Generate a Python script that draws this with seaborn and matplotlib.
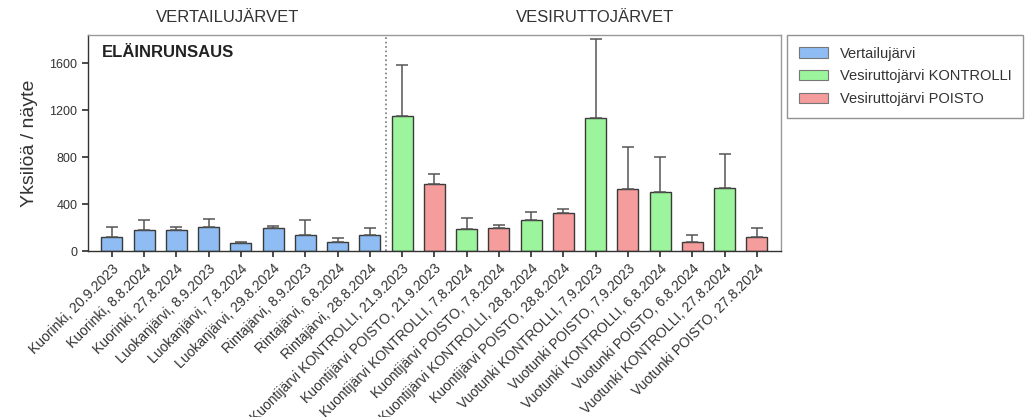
import matplotlib
matplotlib.use("Agg")
import matplotlib.pyplot as plt
from matplotlib.patches import Patch
import seaborn as sns
import pandas as pd
import numpy as np

categories = [
    "Kuorinki, 20.9.2023", "Kuorinki, 8.8.2024", "Kuorinki, 27.8.2024",
    "Luokanjärvi, 8.9.2023", "Luokanjärvi, 7.8.2024", "Luokanjärvi, 29.8.2024",
    "Rintajärvi, 8.9.2023", "Rintajärvi, 6.8.2024", "Rintajärvi, 28.8.2024",
    "Kuontijärvi KONTROLLI, 21.9.2023", "Kuontijärvi POISTO, 21.9.2023",
    "Kuontijärvi KONTROLLI, 7.8.2024", "Kuontijärvi POISTO, 7.8.2024",
    "Kuontijärvi KONTROLLI, 28.8.2024", "Kuontijärvi POISTO, 28.8.2024",
    "Vuotunki KONTROLLI, 7.9.2023", "Vuotunki POISTO, 7.9.2023",
    "Vuotunki KONTROLLI, 6.8.2024", "Vuotunki POISTO, 6.8.2024",
    "Vuotunki KONTROLLI, 27.8.2024", "Vuotunki POISTO, 27.8.2024",
]
groups = (["Vertailujärvi"] * 9
          + ["Vesiruttojärvi KONTROLLI", "Vesiruttojärvi POISTO"] * 6)
means = [122, 179, 179, 207, 71, 199, 136, 74, 134,
         1150, 568, 185, 199, 264, 326, 1136, 525, 505, 74, 539, 119]
sd = [85, 85, 28, 62, 6, 14, 128, 34, 59,
      435, 88, 94, 23, 66, 35, 668, 364, 293, 62, 287, 80]

group_order = ["Vertailujärvi", "Vesiruttojärvi KONTROLLI", "Vesiruttojärvi POISTO"]
palette = {"Vertailujärvi": "#8fbdf3",
           "Vesiruttojärvi KONTROLLI": "#9cf59c",
           "Vesiruttojärvi POISTO": "#f59c9c"}

df = pd.DataFrame({"kohde": categories, "ryhma": groups, "arvo": means, "sd": sd})

sns.set_theme(style="ticks")
plt.rcParams["font.family"] = ["Liberation Sans", "DejaVu Sans"]

fig = plt.figure(figsize=(10.3, 4.17), dpi=100)
ax = fig.add_axes([0.0854, 0.398, 0.6728, 0.518])

sns.barplot(data=df, x="kohde", y="arvo", hue="ryhma", order=categories,
            hue_order=group_order, palette=palette, dodge=False, width=0.65,
            saturation=1, edgecolor="#3a3a3a", linewidth=1.0, legend=False, ax=ax)

# upward-only standard deviation whiskers
xpos = np.arange(len(categories))
ax.errorbar(xpos, df["arvo"], yerr=[np.zeros(len(sd)), df["sd"]], fmt="none",
            ecolor="#555555", elinewidth=1.1, capsize=4, capthick=1.1, zorder=1)

ax.set_xlim(-0.74, 20.75)
ax.set_ylim(0, 1840)
ax.set_yticks([0, 400, 800, 1200, 1600])
ax.set_xlabel("")
ax.set_ylabel("Yksilöä / näyte", fontsize=14, color="#333333", labelpad=8)
ax.tick_params(axis="y", labelsize=9, colors="#333333", length=4)
ax.tick_params(axis="x", labelsize=10, colors="#333333", length=4)
plt.setp(ax.get_xticklabels(), rotation=45, ha="right", rotation_mode="anchor")

for side in ["left", "bottom"]:
    ax.spines[side].set_color("#333333")
    ax.spines[side].set_linewidth(1.0)
for side in ["top", "right"]:
    ax.spines[side].set_visible(True)
    ax.spines[side].set_color("#999999")
    ax.spines[side].set_linewidth(1.0)

ax.axvline(8.5, color="#777777", linestyle=":", linewidth=1.2)

ax.text(0.02, 0.92, "ELÄINRUNSAUS", transform=ax.transAxes, fontsize=12,
        fontweight="bold", color="#222222", va="center", ha="left")

fig.text(228 / 1030, 1 - 17 / 417, "VERTAILUJÄRVET", fontsize=12,
         color="#333333", ha="center", va="center")
fig.text(595 / 1030, 1 - 17 / 417, "VESIRUTTOJÄRVET", fontsize=12,
         color="#333333", ha="center", va="center")

handles = [Patch(facecolor=palette[g], edgecolor="#777777", linewidth=0.8, label=g)
           for g in group_order]
leg = ax.legend(handles=handles, loc="upper left", bbox_to_anchor=(1.009, 1.0),
                borderaxespad=0, frameon=True, fancybox=False, fontsize=10.5,
                handlelength=2.0, handleheight=0.7, borderpad=0.8,
                labelspacing=0.6, handletextpad=0.8)
leg.get_frame().set_edgecolor("#777777")
leg.get_frame().set_linewidth(1.0)
for t in leg.get_texts():
    t.set_color("#333333")

fig.savefig("out.png", dpi=100)
